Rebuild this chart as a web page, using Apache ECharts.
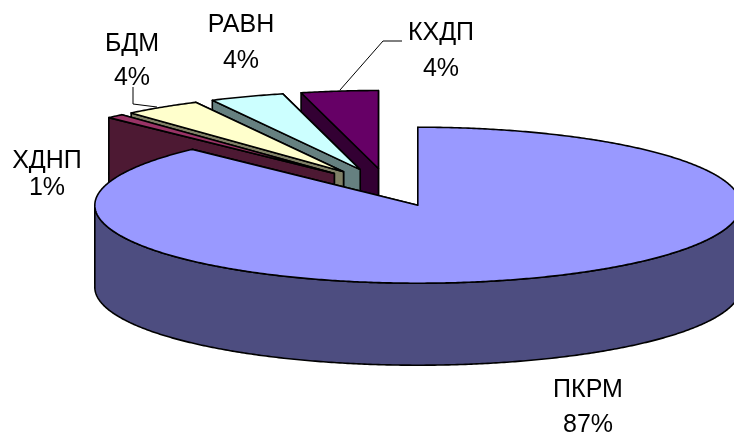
<!DOCTYPE html>
<html><head><meta charset="utf-8">
<style>html,body{margin:0;padding:0;background:#fff}#c{width:734px;height:432px}</style>
<script src="https://cdn.jsdelivr.net/npm/echarts@6/dist/echarts.min.js"></script>
</head><body><div id="c"></div>
<script>
const categories = ['ПКРМ','ХДНП','БДМ','РАВН','КХДП'];
const percentLabels = ['87%','1%','4%','4%','4%'];
const shares = [87.7,0.88,3.85,3.72,3.85];
const topColors = ['#9999FF','#993366','#FFFFCC','#CCFFFF','#660066'];
const wallColors = ['#4D4D80','#4D1933','#808066','#668080','#330033'];

// Projection of the tilted, exploded pie
const cx = 388, cy = 187.5, rx = 323, ry = 78, depth = 82, explode = 0.245;
const RAD = Math.PI/180;
const total = shares.reduce((a,b)=>a+b,0);

// Label placement: [x, line 1 y, line 2 y]
const labelPos = [[588,390,425],[47,161,188],[132,44,78],[241,25,61],[441,33,69]];
const leaders = [[[133,87],[133,104],[157,107]],[[402,41],[383,41],[340,90]]];

const starts = []; { let s = 0; shares.forEach(v=>{starts.push(s); s += v/total*360;}); }
const order = categories.map((_,i)=>i).reverse(); // painted back to front

function renderSlice(params, api){
  const i = api.value(0), a0 = starts[i], a1 = a0 + api.value(1)/total*360, mid = (a0+a1)/2;
  const ax = cx + explode*rx*Math.sin(mid*RAD), ay = cy - explode*ry*Math.cos(mid*RAD);
  const pt = a => [ax + rx*Math.sin(a*RAD), ay - ry*Math.cos(a*RAD)];
  const down = p => [p[0], p[1]+depth];
  const arc = (from,to) => { const n = Math.max(2,Math.ceil((to-from)*2)), r=[]; for(let k=0;k<=n;k++) r.push(pt(from+(to-from)*k/n)); return r; };
  const style = fill => ({fill, stroke:'#000', lineWidth:1.6, lineJoin:'round'});
  const poly = (points,fill) => ({type:'polygon', shape:{points}, style:style(fill)});
  const A = [ax,ay], kids = [];
  const wall = wallColors[i];
  kids.push(poly([A,pt(a1),down(pt(a1)),down(A)],wall));
  kids.push(poly([A,pt(a0),down(pt(a0)),down(A)],wall));
  const f0 = Math.max(a0,90), f1 = Math.min(a1,270);
  if (f1 > f0) { const front = arc(f0,f1); kids.push(poly(front.concat(front.map(down).reverse()),wall)); }
  kids.push(poly([A].concat(arc(a0,a1)),topColors[i]));
  return {type:'group', children:kids};
}

const graphics = [];
categories.forEach((name,i)=>{
  const p = labelPos[i];
  const txt = (t,y)=>({type:'text', x:p[0], y, silent:true, style:{text:t, fill:'#000', font:'25px "Liberation Sans", Arial, sans-serif', textAlign:'center', textVerticalAlign:'middle'}});
  graphics.push(txt(name,p[1]), txt(percentLabels[i],p[2]));
});
leaders.forEach(points=>graphics.push({type:'polyline', silent:true, shape:{points}, style:{stroke:'#000', lineWidth:1, fill:null}}));

const chart = echarts.init(document.getElementById('c'), null, {renderer:'canvas'});
chart.setOption({
  animation:false,
  backgroundColor:'#fff',
  series:[{type:'custom', coordinateSystem:'none', silent:true, clip:false,
    renderItem:renderSlice,
    data:order.map(i=>[i,shares[i]])}],
  graphic:graphics
});
</script></body></html>
